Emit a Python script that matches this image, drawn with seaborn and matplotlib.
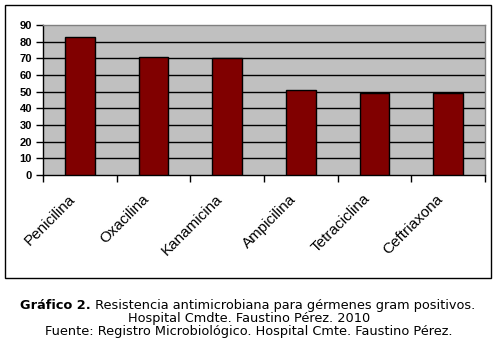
import matplotlib
matplotlib.use("Agg")
import matplotlib.pyplot as plt
import matplotlib.transforms as mtrans
import seaborn as sns
import pandas as pd
from matplotlib.patches import Rectangle

categories = ["Penicilina", "Oxacilina", "Kanamicina", "Ampicilina", "Tetraciclina", "Ceftriaxona"]
values = [83, 71, 70, 51, 49, 49]
yticks = [0, 10, 20, 30, 40, 50, 60, 70, 80, 90]

df = pd.DataFrame({"farmaco": categories, "valor": values})

sns.set_style("white")
plt.rcParams["font.family"] = ["Liberation Sans", "DejaVu Sans"]
plt.rcParams["text.color"] = "black"
plt.rcParams["xtick.color"] = "black"
plt.rcParams["ytick.color"] = "black"

W, H = 498, 349
fig = plt.figure(figsize=(W / 100, H / 100), dpi=100)
ax = fig.add_axes([43 / W, 1 - 175 / H, (485 - 43) / W, (175 - 25) / H])

ax.set_facecolor("#C0C0C0")
sns.barplot(data=df, x="farmaco", y="valor", ax=ax, color="#800000",
            saturation=1, width=0.4, edgecolor="black", linewidth=1.0, zorder=3)

ax.set_xlim(-0.5, len(categories) - 0.5)
ax.set_ylim(0, 90)
ax.set_yticks(yticks)
ax.set_yticklabels([str(t) for t in yticks], fontsize=8, fontweight="bold")
for t in yticks[1:-1]:
    ax.axhline(t, color="black", linewidth=1.0, zorder=1)
ax.set_xlabel("")
ax.set_ylabel("")

# category boundary ticks
ax.set_xticks([i - 0.5 for i in range(len(categories) + 1)], minor=False)
ax.set_xticklabels([])
ax.tick_params(axis="x", which="major", direction="out", length=5, width=1, color="black", bottom=True)
ax.set_xticks(range(len(categories)), minor=True)
ax.set_xticklabels(categories, minor=True, rotation=45, ha="right",
                   rotation_mode="anchor", fontsize=11)
ax.tick_params(axis="x", which="minor", length=0, pad=12)
shift = mtrans.ScaledTranslation(-12 / 100, 0, fig.dpi_scale_trans)
for lab in ax.get_xticklabels(minor=True):
    lab.set_transform(lab.get_transform() + shift)
ax.tick_params(axis="y", direction="out", length=5, width=1, color="black", left=True, pad=3)

for s in ["left", "bottom"]:
    ax.spines[s].set_color("black")
    ax.spines[s].set_linewidth(1.0)
for s in ["top", "right"]:
    ax.spines[s].set_color("#808080")
    ax.spines[s].set_linewidth(1.0)

# outer chart border
fig.patches.append(Rectangle((5 / W, 1 - 278 / H), (491 - 5) / W, (278 - 5) / H,
                             transform=fig.transFigure, fill=False,
                             edgecolor="black", linewidth=1.0))

cap_font = ["DejaVu Sans"]
fs = 9.3
bold_part = fig.text(20 / W, 1 - 305.5 / H, "Gráfico 2.", ha="left", va="center",
                     fontsize=fs, fontweight="bold", family=cap_font, color="black")
ax.annotate(" Resistencia antimicrobiana para gérmenes gram positivos.",
            xy=(1, 0), xycoords=bold_part, ha="left", va="bottom",
            fontsize=fs, family=cap_font, color="black", annotation_clip=False)
fig.text(0.5, 1 - 318.7 / H, "Hospital Cmdte. Faustino Pérez. 2010",
         ha="center", va="center", fontsize=fs, family=cap_font, color="black")
fig.text(0.5, 1 - 331.9 / H, "Fuente: Registro Microbiológico. Hospital Cmte. Faustino Pérez.",
         ha="center", va="center", fontsize=fs, family=cap_font, color="black")

fig.savefig("out.png", dpi=100)
